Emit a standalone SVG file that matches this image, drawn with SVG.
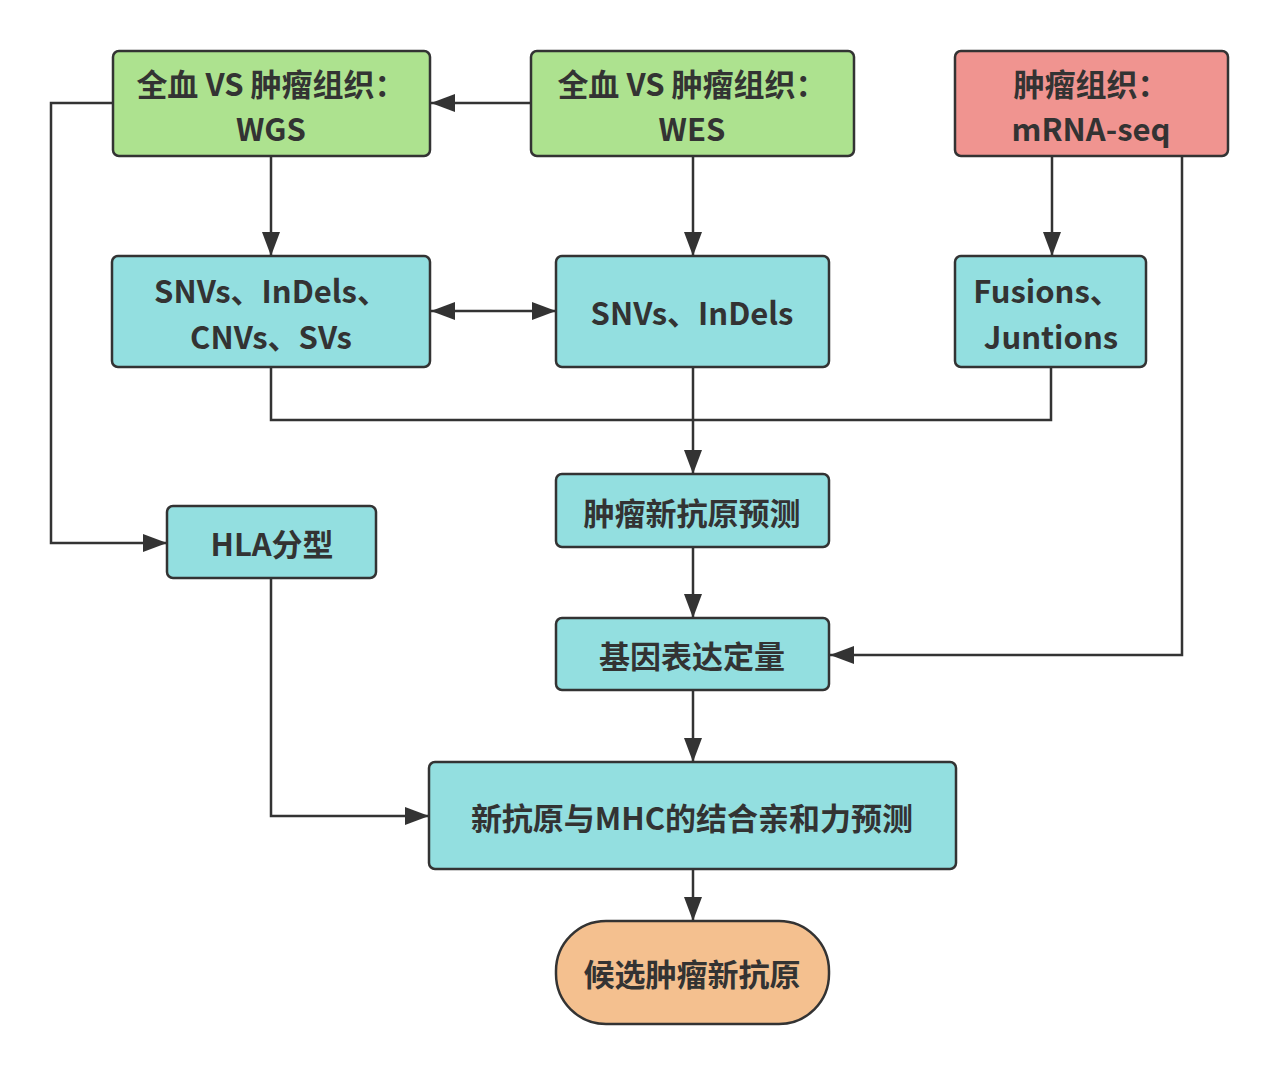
<svg xmlns="http://www.w3.org/2000/svg" width="1280" height="1075" viewBox="0 0 1280 1075">
<defs>
<marker id="ah" viewBox="0 0 24 18" refX="24" refY="9" markerWidth="24" markerHeight="18" markerUnits="userSpaceOnUse" orient="auto-start-reverse">
<path d="M0,0 L24,9 L0,18 Z" fill="#333333"/>
</marker>
<style>
.n{stroke:#333333;stroke-width:2.5}
.g{fill:#ade28f}
.r{fill:#f09490}
.c{fill:#93dfe0}
.o{fill:#f4c08f}
.t{font-family:"Microsoft YaHei","Noto Sans CJK SC","Noto Sans",sans-serif;font-weight:bold;font-size:31px;fill:#333333;text-anchor:middle;dominant-baseline:central}
.e{fill:none;stroke:#333333;stroke-width:2.5}
</style>
</defs>
<rect width="1280" height="1075" fill="#ffffff"/>
<g id="edges">
<path class="e" d="M531,103 H431" marker-end="url(#ah)"/>
<path class="e" d="M113,103 H51 V543 H167" marker-end="url(#ah)"/>
<path class="e" d="M271,156 V256" marker-end="url(#ah)"/>
<path class="e" d="M693,156 V256" marker-end="url(#ah)"/>
<path class="e" d="M1052,156 V256" marker-end="url(#ah)"/>
<path class="e" d="M1182,156 V655 H830" marker-end="url(#ah)"/>
<path class="e" d="M431,311 H556" marker-start="url(#ah)" marker-end="url(#ah)"/>
<path class="e" d="M271,367 V420 H1051 V367"/>
<path class="e" d="M693,367 V474" marker-end="url(#ah)"/>
<path class="e" d="M693,547 V618" marker-end="url(#ah)"/>
<path class="e" d="M693,690 V762" marker-end="url(#ah)"/>
<path class="e" d="M271,578 V816 H429" marker-end="url(#ah)"/>
<path class="e" d="M693,869 V921" marker-end="url(#ah)"/>
</g>
<g id="wgs">
<rect class="n g" x="113" y="51" width="317" height="105" rx="6"/>
<text class="t" x="271" y="82">全血 VS 肿瘤组织：</text>
<text class="t" x="271" y="127">WGS</text>
</g>
<g id="wes">
<rect class="n g" x="531" y="51" width="323" height="105" rx="6"/>
<text class="t" x="692" y="82">全血 VS 肿瘤组织：</text>
<text class="t" x="692" y="127">WES</text>
</g>
<g id="mrna">
<rect class="n r" x="955" y="51" width="273" height="105" rx="6"/>
<text class="t" x="1091" y="82">肿瘤组织：</text>
<text class="t" x="1091" y="127">mRNA-seq</text>
</g>
<g id="wgsvar">
<rect class="n c" x="112" y="256" width="318" height="111" rx="6"/>
<text class="t" x="271" y="289">SNVs、InDels、</text>
<text class="t" x="271" y="335">CNVs、SVs</text>
</g>
<g id="wesvar">
<rect class="n c" x="556" y="256" width="273" height="111" rx="6"/>
<text class="t" x="692" y="311">SNVs、InDels</text>
</g>
<g id="fusion">
<rect class="n c" x="955" y="256" width="191" height="111" rx="6"/>
<text class="t" x="1047" y="289">Fusions、</text>
<text class="t" x="1051" y="335">Juntions</text>
</g>
<g id="predict">
<rect class="n c" x="556" y="474" width="273" height="73" rx="6"/>
<text class="t" x="692" y="511">肿瘤新抗原预测</text>
</g>
<g id="hla">
<rect class="n c" x="167" y="506" width="209" height="72" rx="6"/>
<text class="t" x="272" y="542">HLA分型</text>
</g>
<g id="expr">
<rect class="n c" x="556" y="618" width="273" height="72" rx="6"/>
<text class="t" x="692" y="654">基因表达定量</text>
</g>
<g id="mhc">
<rect class="n c" x="429" y="762" width="527" height="107" rx="6"/>
<text class="t" x="692" y="816">新抗原与MHC的结合亲和力预测</text>
</g>
<g id="cand">
<rect class="n o" x="556" y="921" width="273" height="103" rx="50"/>
<text class="t" x="692" y="972">候选肿瘤新抗原</text>
</g>
</svg>
